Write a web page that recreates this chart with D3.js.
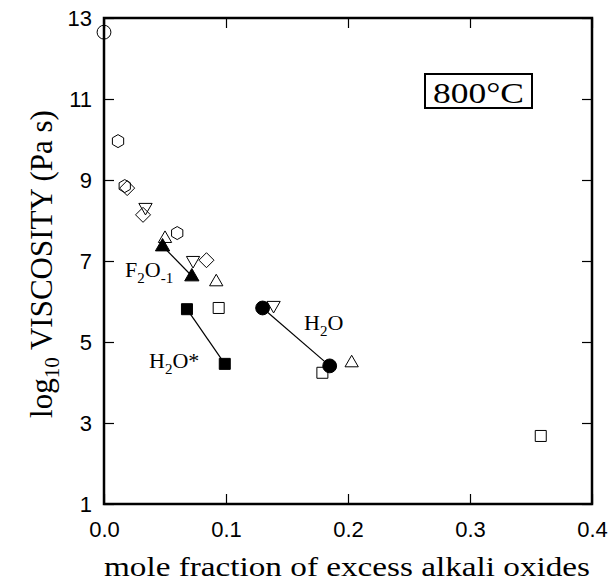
<!DOCTYPE html>
<html>
<head>
<meta charset="utf-8">
<script src="https://cdn.jsdelivr.net/npm/d3@7"></script>
<style>
  body { margin: 0; background: #fff; }
  .tick text { font-family: "Liberation Sans", Arial, sans-serif; font-size: 22px; fill: #000; }
  .title { font-family: "Liberation Serif", "Times New Roman", serif; font-size: 28px; }
  .lab { font-family: "Liberation Serif", "Times New Roman", serif; font-size: 22px; }
</style>
</head>
<body>
<div id="chart"></div>
<script>
// data: [mole fraction, log10 viscosity]
const openCircle = [[0.0, 12.65]];
const openHexagon = [[0.0115, 9.96], [0.017, 8.85], [0.060, 7.69]];
const openDiamond = [[0.019, 8.8], [0.032, 8.14], [0.084, 7.02]];
const openDownTri = [[0.034, 8.31], [0.073, 7.0], [0.139, 5.89]];
const openUpTri = [[0.050, 7.57], [0.092, 6.5], [0.203, 4.5]];
const openSquare = [[0.094, 5.84], [0.179, 4.24], [0.358, 2.68]];
const filledTri = [[0.048, 7.37], [0.072, 6.63]];     // F2O-1
const filledSquare = [[0.068, 5.81], [0.099, 4.46]];  // H2O*
const filledCircle = [[0.13, 5.84], [0.185, 4.41]];   // H2O

const xTicks = [0.0, 0.1, 0.2, 0.3, 0.4];
const yTicks = [1, 3, 5, 7, 9, 11, 13];

const width = 611, height = 583;
const margin = {top: 18, right: 19, bottom: 79, left: 104};

const svg = d3.select("#chart")
  .append("svg")
    .attr("width", width)
    .attr("height", height);

const x = d3.scaleLinear().domain([0, 0.4]).range([margin.left, width - margin.right]);
const y = d3.scaleLinear().domain([1, 13]).range([height - margin.bottom, margin.top]);

// axes with inward ticks on all sides
svg.append("g")
    .attr("transform", `translate(0,${y(1)})`)
    .call(d3.axisBottom(x).tickValues(xTicks).tickFormat(d3.format(".1f")).tickSizeInner(-10).tickSizeOuter(0).tickPadding(17))
    .call(g => g.select(".domain").remove());
svg.append("g")
    .attr("transform", `translate(0,${y(13)})`)
    .call(d3.axisTop(x).tickValues(xTicks).tickFormat("").tickSizeInner(-10).tickSizeOuter(0))
    .call(g => g.select(".domain").remove());
svg.append("g")
    .attr("transform", `translate(${x(0)},0)`)
    .call(d3.axisLeft(y).tickValues(yTicks).tickSizeInner(-10).tickSizeOuter(0).tickPadding(12))
    .call(g => g.select(".domain").remove());
svg.append("g")
    .attr("transform", `translate(${x(0.4)},0)`)
    .call(d3.axisRight(y).tickValues(yTicks).tickFormat("").tickSizeInner(-10).tickSizeOuter(0))
    .call(g => g.select(".domain").remove());

svg.selectAll(".tick line").attr("stroke", "#000").attr("stroke-width", 1.2);

// frame
svg.append("rect")
    .attr("x", x(0)).attr("y", y(13))
    .attr("width", x(0.4) - x(0)).attr("height", y(1) - y(13))
    .attr("fill", "none").attr("stroke", "#000").attr("stroke-width", 2.5);

// connecting lines
const line = d3.line().x(d => x(d[0])).y(d => y(d[1]));
[filledTri, filledSquare, filledCircle].forEach(s => {
  svg.append("path").attr("d", line(s)).attr("fill", "none").attr("stroke", "#000").attr("stroke-width", 1.2);
});

// marker shapes
const hexPath = r => {
  const p = d3.range(6).map(i => {
    const a = Math.PI / 6 + i * Math.PI / 3;
    return [r * Math.cos(a), r * Math.sin(a)];
  });
  return "M" + p.join("L") + "Z";
};
const triPath = (r, up) => {
  const s = up ? -1 : 1;
  return `M0,${s * r}L${r * 0.95},${-s * r * 0.65}L${-r * 0.95},${-s * r * 0.65}Z`;
};
const sqPath = r => `M${-r},${-r}H${r}V${r}H${-r}Z`;
const diaPath = r => `M0,${-r}L${r},0L0,${r}L${-r},0Z`;

function draw(data, pathStr, filled) {
  svg.append("g").selectAll("path")
    .data(data)
    .join("path")
      .attr("transform", d => `translate(${x(d[0])},${y(d[1])})`)
      .attr("d", pathStr)
      .attr("fill", filled ? "#000" : "#fff")
      .attr("fill-opacity", filled ? 1 : 0)
      .attr("stroke", "#000")
      .attr("stroke-width", 1);
}

draw(openCircle, d3.symbol(d3.symbolCircle, 150)(), false);
draw(openHexagon, hexPath(6.5), false);
draw(openDiamond, diaPath(7.5), false);
draw(openDownTri, triPath(7, false), false);
draw(openUpTri, triPath(7, true), false);
draw(openSquare, sqPath(5.5), false);
draw(filledTri, triPath(7.5, true), true);
draw(filledSquare, sqPath(5.5), true);
draw(filledCircle, d3.symbol(d3.symbolCircle, 150)(), true);

// series labels
function label(tx, ty, parts) {
  const t = svg.append("text").attr("class", "lab").attr("x", tx).attr("y", ty);
  parts.forEach(p => {
    t.append("tspan")
      .style("font-size", (p.sub ? 15 : 22) + "px")
      .attr("dy", p.dy || 0)
      .text(p.t);
  });
}
label(125, 277, [{t: "F"}, {t: "2", sub: true, dy: 6}, {t: "O", dy: -6}, {t: "-1", sub: true, dy: 6}]);
label(149, 368, [{t: "H"}, {t: "2", sub: true, dy: 6}, {t: "O*", dy: -6}]);
label(304, 330, [{t: "H"}, {t: "2", sub: true, dy: 6}, {t: "O", dy: -6}]);

// temperature box
svg.append("rect")
    .attr("x", 425).attr("y", 74).attr("width", 107).attr("height", 34)
    .attr("fill", "#fff").attr("stroke", "#000").attr("stroke-width", 2);
svg.append("text").attr("class", "title")
    .attr("x", 433).attr("y", 103)
    .style("font-size", "30px")
    .attr("textLength", 91).attr("lengthAdjust", "spacingAndGlyphs")
    .text("800°C");

// axis titles
svg.append("text").attr("class", "title")
    .attr("x", 104).attr("y", 576)
    .attr("textLength", 486).attr("lengthAdjust", "spacingAndGlyphs")
    .text("mole fraction of excess alkali oxides");

const yt = svg.append("text").attr("class", "title")
    .style("font-size", "31px")
    .attr("transform", `translate(52,264) rotate(-90)`)
    .attr("text-anchor", "middle");
yt.append("tspan").text("log");
yt.append("tspan").style("font-size", "21px").attr("dy", 7).text("10");
yt.append("tspan").attr("dy", -7).text(" VISCOSITY (Pa s)");
</script>
</body>
</html>
